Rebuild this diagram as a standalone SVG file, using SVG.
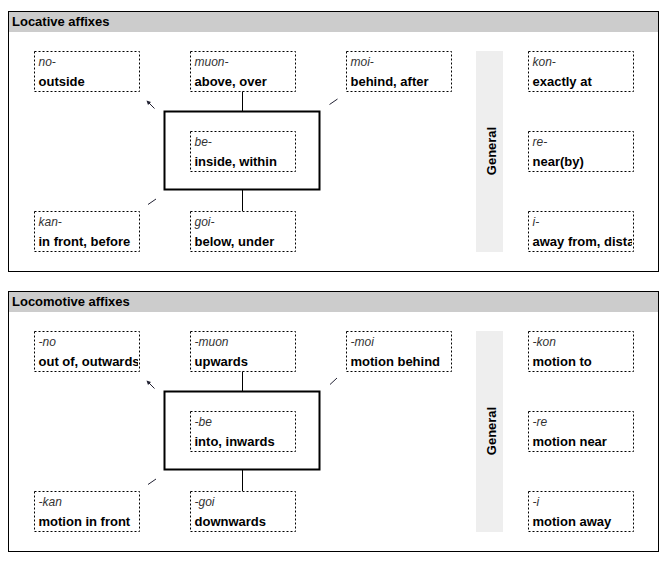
<svg xmlns="http://www.w3.org/2000/svg" width="667" height="562" viewBox="0 0 667 562">
<style>
.panel{fill:#ffffff;stroke:#000;stroke-width:1}
.hdr{fill:#cccccc}
.htxt{font-family:"Liberation Sans",Arial,sans-serif;font-size:13px;font-weight:bold;fill:#000}
.box{fill:#fff;stroke:#000;stroke-width:1;stroke-dasharray:2,2}
.aff{font-family:"Liberation Sans",Arial,sans-serif;font-size:12px;font-style:italic;fill:#333}
.lbl{font-family:"Liberation Sans",Arial,sans-serif;font-size:13px;font-weight:bold;fill:#000}
.core{fill:none;stroke:#000;stroke-width:2}
.band{fill:#eeeeee}
.conn{stroke:#000;stroke-width:1;fill:none}
.mark{stroke:#223;stroke-width:1;fill:none}
</style>
<defs>
<clipPath id="c2"><rect x="528" y="211" width="104" height="41"/></clipPath>
<clipPath id="c3"><rect x="34" y="331" width="104" height="41"/></clipPath>
</defs>

<!-- Panel 1 -->
<g id="panel-locative">
<rect class="panel" x="8.5" y="11.5" width="650" height="260"/>
<rect class="hdr" x="9" y="12" width="649" height="20"/>
<text class="htxt" x="12" y="25.5">Locative affixes</text>
<rect class="band" x="476" y="51" width="27" height="201"/>
<text class="htxt" transform="translate(495.5,151) rotate(-90)" text-anchor="middle">General</text>
</g>
<g id="connectors-locative">
<line class="conn" x1="242.5" y1="91" x2="242.5" y2="111"/>
<line class="conn" x1="242.5" y1="190" x2="242.5" y2="211"/>
<line class="mark" x1="154.5" y1="108.5" x2="148" y2="102"/>
<path d="M146.5,100.5 L151,102 L148,105 Z" fill="#223"/>
<line class="mark" x1="329.5" y1="104.5" x2="337.5" y2="99"/>
<line class="mark" x1="148" y1="204.5" x2="156" y2="199"/>
</g>
<g id="node-no"><rect class="box" x="34.5" y="51.5" width="105" height="40"/><text class="aff" x="38.5" y="66">no-</text><text class="lbl" x="38.5" y="85.5">outside</text></g>
<g id="node-muon"><rect class="box" x="190.5" y="51.5" width="105" height="40"/><text class="aff" x="194.5" y="66">muon-</text><text class="lbl" x="194.5" y="85.5">above, over</text></g>
<g id="node-moi"><rect class="box" x="346.5" y="51.5" width="105" height="40"/><text class="aff" x="350.5" y="66">moi-</text><text class="lbl" x="350.5" y="85.5">behind, after</text></g>
<g id="node-core1"><rect class="core" x="164.5" y="111.5" width="155" height="78"/></g>
<g id="node-be"><rect class="box" x="190.5" y="131.5" width="105" height="40"/><text class="aff" x="194.5" y="146">be-</text><text class="lbl" x="194.5" y="165.5">inside, within</text></g>
<g id="node-kan"><rect class="box" x="34.5" y="211.5" width="105" height="40"/><text class="aff" x="38.5" y="226">kan-</text><text class="lbl" x="38.5" y="245.5">in front, before</text></g>
<g id="node-goi"><rect class="box" x="190.5" y="211.5" width="105" height="40"/><text class="aff" x="194.5" y="226">goi-</text><text class="lbl" x="194.5" y="245.5">below, under</text></g>
<g id="node-kon"><rect class="box" x="528.5" y="51.5" width="105" height="40"/><text class="aff" x="532.5" y="66">kon-</text><text class="lbl" x="532.5" y="85.5">exactly at</text></g>
<g id="node-re"><rect class="box" x="528.5" y="131.5" width="105" height="40"/><text class="aff" x="532.5" y="146">re-</text><text class="lbl" x="532.5" y="165.5">near(by)</text></g>
<g id="node-i"><rect class="box" x="528.5" y="211.5" width="105" height="40"/><text class="aff" x="532.5" y="226">i-</text><text class="lbl" x="532.5" y="245.5" clip-path="url(#c2)">away from, distant</text></g>

<!-- Panel 2 -->
<g id="panel-locomotive">
<rect class="panel" x="8.5" y="291.5" width="650" height="260"/>
<rect class="hdr" x="9" y="292" width="649" height="20"/>
<text class="htxt" x="12" y="305.5">Locomotive affixes</text>
<rect class="band" x="476" y="331" width="27" height="201"/>
<text class="htxt" transform="translate(495.5,431) rotate(-90)" text-anchor="middle">General</text>
</g>
<g id="connectors-locomotive">
<line class="conn" x1="242.5" y1="371" x2="242.5" y2="391"/>
<line class="conn" x1="242.5" y1="470" x2="242.5" y2="491"/>
<line class="mark" x1="154.5" y1="388.5" x2="148" y2="382"/>
<path d="M146.5,380.5 L151,382 L148,385 Z" fill="#223"/>
<line class="mark" x1="330" y1="384.5" x2="337" y2="378"/>
<line class="mark" x1="148" y1="484.5" x2="156" y2="479"/>
</g>
<g id="node-no2"><rect class="box" x="34.5" y="331.5" width="105" height="40"/><text class="aff" x="38.5" y="346">-no</text><text class="lbl" x="38.5" y="365.5" clip-path="url(#c3)">out of, outwards</text></g>
<g id="node-muon2"><rect class="box" x="190.5" y="331.5" width="105" height="40"/><text class="aff" x="194.5" y="346">-muon</text><text class="lbl" x="194.5" y="365.5">upwards</text></g>
<g id="node-moi2"><rect class="box" x="346.5" y="331.5" width="105" height="40"/><text class="aff" x="350.5" y="346">-moi</text><text class="lbl" x="350.5" y="365.5">motion behind</text></g>
<g id="node-core2"><rect class="core" x="164.5" y="391.5" width="155" height="78"/></g>
<g id="node-be2"><rect class="box" x="190.5" y="411.5" width="105" height="40"/><text class="aff" x="194.5" y="426">-be</text><text class="lbl" x="194.5" y="445.5">into, inwards</text></g>
<g id="node-kan2"><rect class="box" x="34.5" y="491.5" width="105" height="40"/><text class="aff" x="38.5" y="506">-kan</text><text class="lbl" x="38.5" y="525.5">motion in front</text></g>
<g id="node-goi2"><rect class="box" x="190.5" y="491.5" width="105" height="40"/><text class="aff" x="194.5" y="506">-goi</text><text class="lbl" x="194.5" y="525.5">downwards</text></g>
<g id="node-kon2"><rect class="box" x="528.5" y="331.5" width="105" height="40"/><text class="aff" x="532.5" y="346">-kon</text><text class="lbl" x="532.5" y="365.5">motion to</text></g>
<g id="node-re2"><rect class="box" x="528.5" y="411.5" width="105" height="40"/><text class="aff" x="532.5" y="426">-re</text><text class="lbl" x="532.5" y="445.5">motion near</text></g>
<g id="node-i2"><rect class="box" x="528.5" y="491.5" width="105" height="40"/><text class="aff" x="532.5" y="506">-i</text><text class="lbl" x="532.5" y="525.5">motion away</text></g>
</svg>
